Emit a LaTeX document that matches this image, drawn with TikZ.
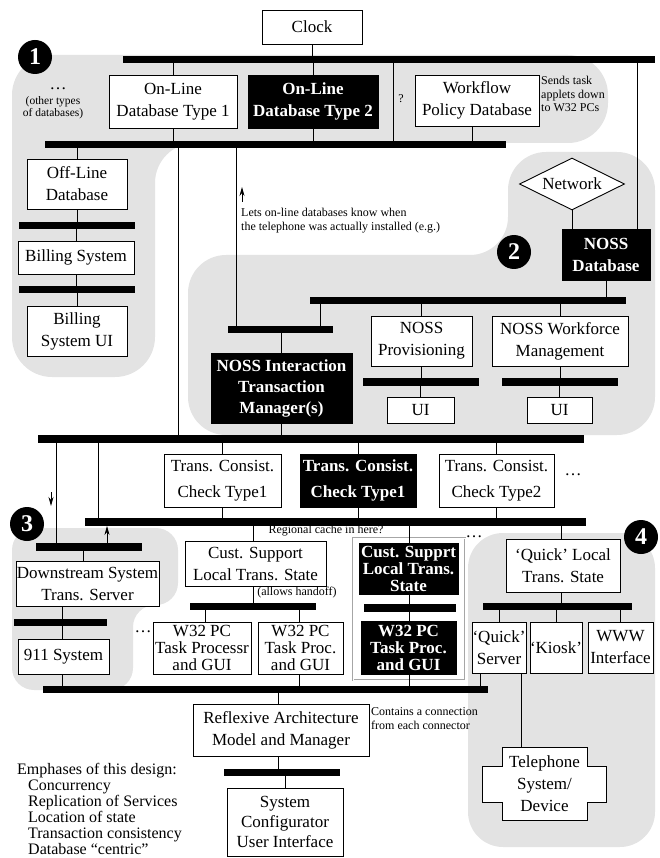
\documentclass[tikz,border=0pt]{standalone}
\usepackage{fontspec}
\setmainfont{Liberation Serif}
\usetikzlibrary{arrows.meta,shapes.geometric}
\tikzset{
  % grey backgrounds of the four areas
  region/.style={fill=black!11},
  % boxes
  box/.style={draw, fill=white, line width=0.9pt, inner sep=0pt, align=center,
    font=\fontsize{17}{22}\selectfont},
  darkbox/.style={box, fill=black, text=white, font=\fontsize{17}{22}\selectfont\bfseries},
  % connector bars
  bus/.style={fill=black, inner sep=0pt, minimum height=7.5pt},
  badge/.style={circle, fill=black, text=white, inner sep=0pt, minimum size=34pt,
    font=\fontsize{24}{24}\selectfont\bfseries},
  note/.style={inner sep=0pt, align=left, font=\fontsize{12}{13.5}\selectfont},
  dots/.style={inner sep=0pt, font=\fontsize{17}{17}\selectfont},
  wire/.style={line width=0.8pt},
  tip/.style={wire, -{Stealth[length=9pt,width=5pt]}},
}

\begin{document}
\begin{tikzpicture}[x=1pt, y=-1pt]
  \useasboundingbox (0,0) rectangle (660,858);

  % Areas
  \fill[region, rounded corners=40pt] (12,377) -- (12,55) -- (608,55) -- (608,143)
    -- (155,143) -- (155,377) -- cycle;
  \fill[region, rounded corners=38pt] (188,435) -- (188,255) -- (508,255) -- (508,152)
    -- (655,152) -- (655,435) -- cycle;
  \fill[region, rounded corners=22pt] (12,690) -- (12,528) -- (178,528) -- (178,605)
    -- (133,605) -- (133,690) -- cycle;
  \fill[region, rounded corners=35pt] (468,533) rectangle (655,847);
  \draw[black!35, line width=0.6pt, double=white, double distance=0.8pt]
    (353,538) rectangle (465,680);

  % Databases
  \node[box, minimum width=100pt, minimum height=34pt] (clock) at (312,27) {Clock};
  \node[bus, minimum width=532pt] (dbbus) at (389,59.5) {};
  \node[box, minimum width=128pt, minimum height=53pt] (online1) at (173,101.5)
    {On-Line\\Database Type 1};
  \node[darkbox, minimum width=130pt, minimum height=53pt] (online2) at (313,101.5)
    {On-Line\\Database Type 2};
  \node[box, minimum width=124pt, minimum height=51pt] (workflow) at (477,100.5)
    {Workflow\\Policy Database};
  \node[bus, minimum width=461pt] (onlinebus) at (275.5,144.5) {};
  \node[box, minimum width=100pt, minimum height=50pt] (offline) at (77,184)
    {Off-Line\\Database};
  \node[bus, minimum width=116pt] (offbus) at (77,225.5) {};
  \node[box, minimum width=116pt, minimum height=33pt] (billing) at (76,257.5)
    {Billing System};
  \node[bus, minimum width=116pt] (billbus) at (77,289.5) {};
  \node[box, minimum width=100pt, minimum height=50pt] (billui) at (77,331)
    {Billing\\System UI};

  \node[dots] (moredb) at (58,89) {\dots};
  \node[note, align=center, font=\fontsize{11.5}{12}\selectfont] (othertypes) at (53,108)
    {(other types\\of databases)};
  \node[note] (query) at (401,99) {?};
  \node[note, anchor=west] (sendnote) at (541,94)
    {Sends task\\applets down\\to W32 PCs};
  \node[note, anchor=west] (letsnote) at (241,220.5)
    {Lets on-line databases know when\\the telephone was actually installed (e.g.)};

  % NOSS
  \node[diamond, draw, fill=white, line width=0.9pt, inner sep=0pt, aspect=2,
    minimum width=105pt, minimum height=52pt, font=\fontsize{17}{22}\selectfont]
    (network) at (572,184) {Network};
  \node[darkbox, minimum width=88pt, minimum height=51pt] (nossdb) at (606,254.5)
    {NOSS\\Database};
  \node[bus, minimum width=316pt] (nossbus) at (468,300.5) {};
  \node[bus, minimum width=105pt] (nitmbus) at (280.5,329.5) {};
  \node[darkbox, minimum width=141pt, minimum height=70pt,
    font=\fontsize{17}{21}\selectfont\bfseries] (nitm) at (281.5,388)
    {NOSS Interaction\\Transaction\\Manager(s)};
  \node[box, minimum width=101pt, minimum height=50pt] (prov) at (421.5,341)
    {NOSS\\Provisioning};
  \node[bus, minimum width=116pt] (provbus) at (421,382) {};
  \node[box, minimum width=67pt, minimum height=26pt] (provui) at (420.5,410) {UI};
  \node[box, minimum width=136pt, minimum height=50pt] (workforce) at (560,341)
    {NOSS Workforce\\Management};
  \node[bus, minimum width=116pt] (workbus) at (560,382) {};
  \node[box, minimum width=65pt, minimum height=26pt] (workui) at (559.5,410) {UI};

  % Transaction consistency
  \node[bus, minimum width=546pt] (txbus) at (311,439) {};
  \node[box, minimum width=117pt, minimum height=53pt,
    font=\fontsize{17}{26}\selectfont] (check1) at (222.5,480.5)
    {Trans. Consist.\\Check Type1};
  \node[darkbox, minimum width=116pt, minimum height=53pt,
    font=\fontsize{17}{26}\selectfont\bfseries] (check1b) at (358,480.5)
    {Trans. Consist.\\Check Type1};
  \node[box, minimum width=115pt, minimum height=53pt,
    font=\fontsize{17}{26}\selectfont] (check2) at (496.5,480.5)
    {Trans. Consist.\\Check Type2};
  \node[dots] (morecheck) at (573,475) {\dots};
  \node[bus, minimum width=501pt] (regbus) at (335.5,522) {};
  \node[note] (cachenote) at (326,531) {Regional cache in here?};
  \node[dots] (moreregion) at (474,537) {\dots};

  % Downstream
  \node[bus, minimum width=106pt] (dsbus) at (89,547) {};
  \node[box, minimum width=143pt, minimum height=45pt] (downstream) at (87.5,583.5)
    {Downstream System\\Trans. Server};
  \node[bus, minimum width=93pt] (dsbus2) at (60.5,622.5) {};
  \node[box, minimum width=91pt, minimum height=35pt] (sys911) at (63.5,656.5)
    {911 System};
  \node[dots] (morepc) at (143,632) {\dots};

  % Customer support
  \node[box, minimum width=141pt, minimum height=45pt] (custsup) at (255.5,563.5)
    {Cust. Support\\Local Trans. State};
  \node[note] (handoff) at (297,593) {(allows handoff)};
  \node[bus, minimum width=126pt] (custbus) at (253,606.5) {};
  \node[box, minimum width=98pt, minimum height=52pt,
    font=\fontsize{17}{17}\selectfont] (pc1) at (202,648)
    {W32 PC\\Task Processr\\and GUI};
  \node[box, minimum width=85pt, minimum height=52pt,
    font=\fontsize{17}{17}\selectfont] (pc2) at (300.5,648)
    {W32 PC\\Task Proc.\\and GUI};
  \node[darkbox, minimum width=99pt, minimum height=51pt,
    font=\fontsize{17}{17}\selectfont\bfseries] (custsupb) at (408.5,568.5)
    {Cust. Supprt\\Local Trans.\\State};
  \node[bus, minimum width=92pt] (custbusb) at (410,608) {};
  \node[darkbox, minimum width=95pt, minimum height=53pt,
    font=\fontsize{17}{17}\selectfont\bfseries] (pc3) at (408.5,647.5)
    {W32 PC\\Task Proc.\\and GUI};

  % Quick
  \node[box, minimum width=114pt, minimum height=53pt] (quicklocal) at (563,565.5)
    {`Quick' Local\\Trans. State};
  \node[bus, minimum width=149pt] (quickbus) at (557.5,606.5) {};
  \node[box, minimum width=54pt, minimum height=51pt] (quickserver) at (499,647.5)
    {`Quick'\\Server};
  \node[box, minimum width=52pt, minimum height=51pt] (kiosk) at (556,647.5)
    {`Kiosk'};
  \node[box, minimum width=65pt, minimum height=51pt] (www) at (620.5,647.5)
    {WWW\\Interface};
  \draw[fill=white, line width=0.9pt] (502,747) -- (587,747) -- (587,766) -- (606,766)
    -- (606,802) -- (587,802) -- (587,820) -- (502,820) -- (502,802) -- (482,802)
    -- (482,766) -- (502,766) -- cycle;
  \node[inner sep=0pt, minimum width=85pt, minimum height=73pt, align=center,
    font=\fontsize{17}{22}\selectfont] (phone) at (544.5,783.5)
    {Telephone\\System/\\Device};

  % Reflexive architecture
  \node[bus, minimum width=445pt] (mainbus) at (265.5,689.5) {};
  \node[box, minimum width=176pt, minimum height=52pt] (reflexive) at (281,730)
    {Reflexive Architecture\\Model and Manager};
  \node[note, anchor=west] (containsnote) at (371,718.5)
    {Contains a connection\\from each connector};
  \node[bus, minimum width=116pt] (reflbus) at (282,772.5) {};
  \node[box, minimum width=116pt, minimum height=68pt,
    font=\fontsize{17}{20}\selectfont] (configurator) at (285,822)
    {System\\Configurator\\User Interface};
  \node[inner sep=0pt, anchor=north west, align=left,
    font=\fontsize{16}{16}\selectfont] (emphases) at (17,763)
    {Emphases of this design:\\
     \hspace*{11pt}Concurrency\\
     \hspace*{11pt}Replication of Services\\
     \hspace*{11pt}Location of state\\
     \hspace*{11pt}Transaction consistency\\
     \hspace*{11pt}Database ``centric''};

  % Badges
  \node[badge] (one) at (35,57) {1};
  \node[badge] (two) at (514,252) {2};
  \node[badge] (three) at (27,524) {3};
  \node[badge] (four) at (641,537) {4};

  % Connectors
  \coordinate (qline) at (393,0);
  \coordinate (nossline) at (637,0);
  \coordinate (letsline) at (236,0);
  \coordinate (txline) at (178,0);
  \coordinate (linkline) at (320,0);
  \coordinate (dsdown) at (56,0);
  \coordinate (dsup) at (107,0);
  \coordinate (regline) at (98,0);
  \coordinate (qsmain) at (480,0);
  \coordinate (qsphone) at (521,0);
  \begin{scope}[wire]
    \draw (clock.south) -- (clock.south |- dbbus.north);
    \draw (online1.north) -- (online1.north |- dbbus.south);
    \draw (online1.south) -- (online1.south |- onlinebus.north);
    \draw (online2.north) -- (online2.north |- dbbus.south);
    \draw (online2.south) -- (online2.south |- onlinebus.north);
    \draw (dbbus.south -| qline) -- (onlinebus.north -| qline);
    \draw ([xshift=-5pt]workflow.south) -- ([xshift=-5pt]workflow.south |- onlinebus.north);
    \draw (dbbus.south -| nossline) -- (nossdb.north -| nossline);
    \draw (onlinebus.south -| offline) -- (offline.north);
    \draw (offline.south) -- (offline.south |- offbus.north);
    \draw (offbus.south -| billing) -- (billing.north);
    \draw (billing.south) -- (billing.south |- billbus.north);
    \draw (billbus.south -| billui) -- (billui.north);
    \draw (network.south) -- (network.south |- nossdb.north);
    \draw (nossdb.south) -- (nossdb.south |- nossbus.north);
    \draw (nossbus.south -| linkline) -- (nitmbus.north -| linkline);
    \draw (onlinebus.south -| letsline) -- (nitmbus.north -| letsline);
    \draw (onlinebus.south -| txline) -- (txbus.north -| txline);
    \draw (nitmbus.south -| nitm) -- (nitm.north);
    \draw (nitm.south) -- (nitm.south |- txbus.north);
    \draw (prov.north) -- (prov.north |- nossbus.south);
    \draw (prov.south) -- (prov.south |- provbus.north);
    \draw (provbus.south -| provui) -- (provui.north);
    \draw (workforce.north) -- (workforce.north |- nossbus.south);
    \draw (workforce.south) -- (workforce.south |- workbus.north);
    \draw (workbus.south -| workui) -- (workui.north);
    \draw (txbus.south -| check1) -- (check1.north);
    \draw (check1.south) -- (check1.south |- regbus.north);
    \draw (txbus.south -| check1b) -- (check1b.north);
    \draw (check1b.south) -- (check1b.south |- regbus.north);
    \draw (txbus.south -| check2) -- (check2.north);
    \draw (check2.south) -- (check2.south |- regbus.north);
    \draw (txbus.south -| dsdown) -- (dsbus.north -| dsdown);
    \draw (txbus.south -| regline) -- (regbus.north -| regline);
    \draw (dsbus.south -| 83,0) -- (downstream.north -| 83,0);
    \draw (downstream.south -| 62,0) -- (dsbus2.north -| 62,0);
    \draw (dsbus2.south -| 62,0) -- (sys911.north -| 62,0);
    \draw (sys911.south -| 62,0) -- (mainbus.north -| 62,0);
    \draw (regbus.south -| 253,0) -- (custsup.north -| 253,0);
    \draw (custsup.south -| 253,0) -- (custbus.north -| 253,0);
    \draw (custbus.south -| 205,0) -- (pc1.north -| 205,0);
    \draw (custbus.south -| 299,0) -- (pc2.north -| 299,0);
    \draw (pc2.south -| 299,0) -- (mainbus.north -| 299,0);
    \draw (regbus.south -| 409,0) -- (custsupb.north -| 409,0);
    \draw (custsupb.south -| 409,0) -- (custbusb.north -| 409,0);
    \draw (custbusb.south -| 409,0) -- (pc3.north -| 409,0);
    \draw (pc3.south -| 409,0) -- (mainbus.north -| 409,0);
    \draw (regbus.south -| 561,0) -- (quicklocal.north -| 561,0);
    \draw (quicklocal.south -| 561,0) -- (quickbus.north -| 561,0);
    \draw (quickbus.south -| quickserver) -- (quickserver.north);
    \draw (quickbus.south -| kiosk) -- (kiosk.north);
    \draw (quickbus.south -| www) -- (www.north);
    \draw (quickserver.south -| qsmain) -- (mainbus.north -| qsmain);
    \draw (quickserver.south -| qsphone) -- (phone.north -| qsphone);
    \draw (mainbus.south -| 278,0) -- (reflexive.north -| 278,0);
    \draw (reflexive.south -| 278,0) -- (reflbus.north -| 278,0);
    \draw (reflbus.south -| configurator) -- (configurator.north);
  \end{scope}
  \draw[tip] (dsbus.north -| dsup) -- (regbus.south -| dsup);

  % free arrows
  \coordinate (letsfrom) at (242,202);
  \coordinate (letsto) at (242,187);
  \coordinate (downfrom) at (51,492);
  \coordinate (downto) at (51,506);
  \draw[tip] (letsfrom) -- (letsto);
  \draw[tip] (downfrom) -- (downto);
\end{tikzpicture}
\end{document}
